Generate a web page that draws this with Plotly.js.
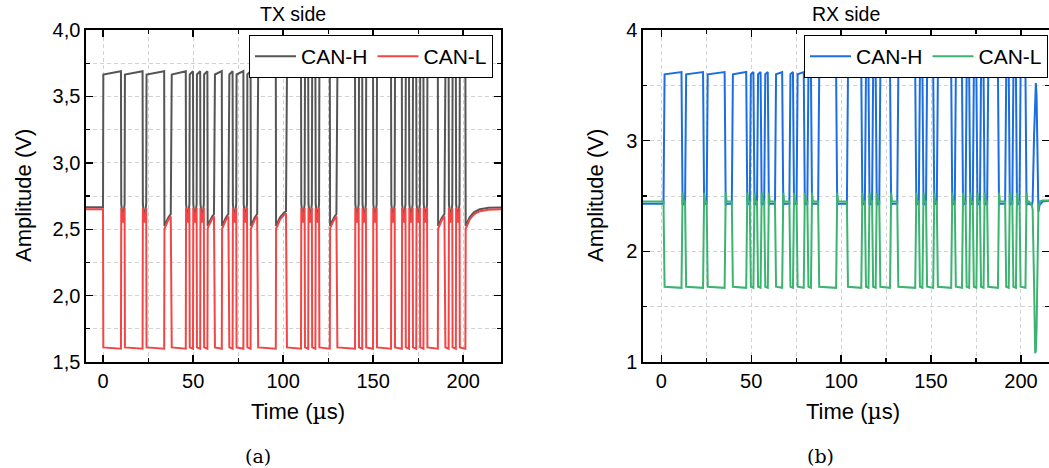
<!DOCTYPE html>
<html><head><meta charset="utf-8">
<script src="https://cdn.plot.ly/plotly-3.0.1.min.js"></script>
<style>html,body{margin:0;padding:0;background:#fff}#chart{width:1049px;height:468px}</style>
</head><body><div id="chart"></div>
<script>
// ---- data (µs) ----
// start / end times of the dominant bits of the frame (TX side)
const domStart = [0,12,24,38,48,52,56,62,70,74,80,86,102,112,116,120,130,142,146,152,162,168,172,176,180,190,194,198];
const domEnd   = [10,22,34,46,50,54,58,66,72,78,82,96,110,114,118,126,140,144,150,160,166,170,174,178,186,192,196,201.3];
// TX levels (V)
const txHdom = 3.69, txLdom = 1.60;
const txIdleH = 2.665, txIdleL = 2.65;
const txPeakL = 2.66, txValleyL = 2.55, txRecStartL = 2.50;
// RX levels (V)
const rxDelay = 1.2;
const rxHdom = 3.62, rxLdom = 1.67;
const rxRecH = 2.43, rxRecL = 2.45, rxOverL = 2.53;
// RX end-of-frame spike
const ackT = [204.5, 206.0, 206.5, 207.3, 207.9, 208.3, 208.7, 209.2, 209.7, 210.4, 212, 216.5];
const ackH = [2.43, 2.42, 2.45, 3.05, 3.45, 3.52, 3.40, 2.90, 2.36, 2.42, 2.45, 2.46];
const ackL = [2.45, 2.42, 2.38, 1.70, 1.08, 1.10, 1.30, 1.85, 2.38, 2.45, 2.46, 2.46];

// ---- build traces ----
function add(o,t,h,l){o.t.push(t);o.h.push(h);o.l.push(l);}
const tx = {t:[],h:[],l:[]};
const n = domStart.length;
add(tx, -12, txIdleH, txIdleL);
add(tx, domStart[0]-0.05, txIdleH, txIdleL);
for (let i=0;i<n;i++){
  const a = domStart[i], b = domEnd[i];
  add(tx, a+0.12, txHdom-0.025, txLdom+0.01);
  add(tx, b-0.08, txHdom, txLdom);
  const next = i+1<n ? domStart[i+1] : 226;
  const gap = next-b;
  if (gap < 3) {
    add(tx, b+0.08, txPeakL+0.03, txPeakL);
    add(tx, b+1.0, txValleyL+0.02, txValleyL);
    add(tx, next-0.05, txPeakL+0.03, txPeakL);
  } else {
    const tau = 3.5;
    for (let s=0.08; b+s < next-0.05; s+=0.5) {
      const k = Math.exp(-(s)/tau);
      add(tx, b+s, txIdleH-(txIdleH-txRecStartL-0.02)*k, txIdleL-(txIdleL-txRecStartL)*k);
    }
  }
}
const rx = {t:[],h:[],l:[]};
add(rx, -12, rxRecH, rxRecL);
for (let i=0;i<n;i++){
  const a = domStart[i]+rxDelay, b = domEnd[i]+rxDelay;
  add(rx, a, rxRecH, rxRecL);
  add(rx, a+0.6, rxHdom-0.02, rxLdom+0.01);
  add(rx, b, rxHdom, rxLdom);
  add(rx, b+0.6, rxRecH-0.01, rxOverL);
  add(rx, b+1.1, rxRecH, rxRecL);
}
for (let j=0;j<ackT.length;j++) add(rx, ackT[j], ackH[j], ackL[j]);

const colTXH = '#555555', colTXL = '#f24646', colRXH = '#1c6ee0', colRXL = '#3cb371';
const data = [
  {x:tx.t, y:tx.h, type:'scatter', mode:'lines', name:'CAN-H', line:{color:colTXH,width:2}, xaxis:'x', yaxis:'y', legend:'legend'},
  {x:tx.t, y:tx.l, type:'scatter', mode:'lines', name:'CAN-L', line:{color:colTXL,width:2}, xaxis:'x', yaxis:'y', legend:'legend'},
  {x:rx.t, y:rx.h, type:'scatter', mode:'lines', name:'CAN-H', line:{color:colRXH,width:2}, xaxis:'x2', yaxis:'y2', legend:'legend2'},
  {x:rx.t, y:rx.l, type:'scatter', mode:'lines', name:'CAN-L', line:{color:colRXL,width:2}, xaxis:'x2', yaxis:'y2', legend:'legend2'}
];

const fontFam = 'Liberation Sans, Arial, sans-serif';
const gridStyle = {showgrid:true, gridcolor:'#d2d2d2', gridwidth:1, griddash:'4px,3px'};
function axis(extra){
  return Object.assign({
    showline:true, linecolor:'#000', linewidth:1.6, mirror:'ticks',
    ticks:'inside', ticklen:7, tickwidth:1.4, tickcolor:'#000',
    zeroline:false, tickfont:{family:fontFam, size:20, color:'#000'},
    fixedrange:true
  }, gridStyle, extra);
}
const minorX = {dtick:25, ticks:'inside', ticklen:4, tickcolor:'#000', tickwidth:1.2, showgrid:true, gridcolor:'#d2d2d2', griddash:'4px,3px'};
const ann = (text, x, y, size, extra) => Object.assign({text:text, x:x/1049, y:1-y/468, xref:'paper', yref:'paper',
  xanchor:'center', yanchor:'middle', showarrow:false, font:{family:fontFam,size:size,color:'#000'}}, extra||{});
const legendBase = {orientation:'h', xanchor:'right', y:1-35/468, yanchor:'top', bgcolor:'#fff',
  bordercolor:'#000', borderwidth:1, font:{family:fontFam, size:21, color:'#000'}, itemwidth:41};
const layout = {
  width:1049, height:468, margin:{l:0,r:0,t:0,b:0},
  paper_bgcolor:'#fff', plot_bgcolor:'#fff', separators:', ',
  showlegend:true,
  xaxis: axis({domain:[86/1049, 501/1049], range:[-9.5,221], tickvals:[0,50,100,150,200], minor:minorX, anchor:'y'}),
  yaxis: axis({domain:[1-362/468, 1-30/468], range:[1.5,4.0], dtick:0.5, tick0:1.5, tickformat:'.1f', anchor:'x',
               minor:{dtick:0.25, ticks:'inside', ticklen:4, tickcolor:'#000', tickwidth:1.2, showgrid:true, gridcolor:'#d2d2d2', griddash:'4px,3px'}}),
  xaxis2: axis({domain:[643/1049, 1], range:[-10.2,215.6], tickvals:[0,50,100,150,200], minor:minorX, anchor:'y2'}),
  yaxis2: axis({domain:[1-362/468, 1-30/468], range:[1,4], dtick:1, tick0:1, anchor:'x2',
               minor:{dtick:0.5, ticks:'inside', ticklen:4, tickcolor:'#000', tickwidth:1.2, showgrid:true, gridcolor:'#d2d2d2', griddash:'4px,3px'}}),
  legend: Object.assign({x:493/1049}, legendBase),
  legend2: Object.assign({x:1048/1049}, legendBase),
  annotations: [
    ann('TX side', 293, 14, 19.5),
    ann('RX side', 846, 14, 19.5),
    ann('Amplitude (V)', 23, 196, 22, {textangle:-90}),
    ann('Amplitude (V)', 595, 196, 22, {textangle:-90}),
    ann('Time (<span style="font-family:DejaVu Serif">µ</span>s)', 298, 411, 22),
    ann('Time (<span style="font-family:DejaVu Serif">µ</span>s)', 853, 411, 22),
    ann('(a)', 258, 456, 19, {font:{family:'DejaVu Serif, Liberation Serif, serif',size:19,color:'#000'}}),
    ann('(b)', 820, 456, 19, {font:{family:'DejaVu Serif, Liberation Serif, serif',size:19,color:'#000'}})
  ]
};
Plotly.newPlot('chart', data, layout, {staticPlot:true, displayModeBar:false});
</script>
</body></html>
